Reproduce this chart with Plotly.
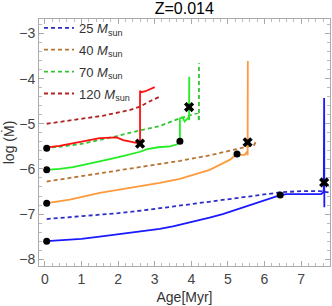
import plotly.graph_objects as go

# ---- data (Age [Myr], log Mdot) ----
age25_s = [0.05, 0.5, 1.0, 1.5, 2.0, 2.5, 3.14, 3.5, 4.0, 4.5, 4.86, 5.2, 5.58, 6.04, 6.3, 6.43, 6.6, 7.0, 7.4, 7.55, 7.6, 7.62, 7.63, 7.635]
lm25_s = [-7.60, -7.58, -7.55, -7.50, -7.45, -7.40, -7.33, -7.27, -7.18, -7.08, -7.00, -6.91, -6.81, -6.69, -6.62, -6.58, -6.56, -6.56, -6.57, -6.56, -6.52, -6.45, -4.43, -6.85]
age25_d = [0.05, 1.0, 2.0, 2.87, 3.5, 4.2, 5.05, 5.87, 6.42, 7.0, 7.5, 7.75]
lm25_d = [-7.11, -7.05, -6.98, -6.90, -6.83, -6.76, -6.67, -6.57, -6.52, -6.49, -6.49, -6.52]

age40_s = [0.05, 0.68, 1.5, 2.2, 2.87, 3.14, 3.69, 4.5, 5.05, 5.25, 5.35, 5.46, 5.52, 5.54, 5.545]
lm40_s = [-6.76, -6.68, -6.53, -6.44, -6.35, -6.31, -6.22, -6.02, -5.80, -5.67, -5.69, -5.69, -5.62, -5.70, -3.61]
age40_d = [0.05, 0.7, 1.5, 2.3, 3.0, 3.7, 4.5, 5.0, 5.33, 5.6, 5.72, 5.77]
lm40_d = [-6.28, -6.20, -6.09, -5.99, -5.91, -5.82, -5.70, -5.61, -5.54, -5.49, -5.47, -5.38]

age70_s = [0.05, 0.4, 0.77, 1.2, 1.68, 2.1, 2.6, 2.8, 3.1, 3.42, 3.6, 3.69, 3.69, 3.76, 3.82, 3.88, 3.93, 3.94, 3.945]
lm70_s = [-6.02, -6.00, -5.96, -5.89, -5.80, -5.72, -5.62, -5.56, -5.52, -5.50, -5.46, -5.39, -4.88, -4.86, -4.95, -4.90, -4.85, -4.92, -3.96]
age70_d = [0.0, 0.5, 1.04, 1.5, 1.94, 2.32, 2.87, 3.14, 3.69, 4.14, 4.19, 4.21, 4.21]
lm70_d = [-5.54, -5.50, -5.44, -5.36, -5.28, -5.20, -5.11, -5.05, -4.88, -4.77, -4.76, -4.95, -3.66]

age120_s = [0.0, 0.4, 1.04, 1.5, 1.96, 2.14, 2.6, 2.6, 2.63, 2.75, 3.0]
lm120_s = [-5.53, -5.49, -5.39, -5.32, -5.30, -5.36, -5.44, -4.27, -4.30, -4.28, -4.19]
age120_d = [0.05, 0.8, 1.6, 2.3, 2.6, 2.87, 3.14]
lm120_d = [-5.00, -4.92, -4.82, -4.70, -4.62, -4.50, -4.40]

dot_age = [0.05, 0.05, 0.05, 0.05, 6.43, 5.25, 3.69]
dot_lm = [-7.60, -6.76, -6.02, -5.54, -6.58, -5.67, -5.39]
x_age = [2.60, 3.94, 5.54, 7.63]
x_lm = [-5.44, -4.63, -5.41, -6.30]

names = ["25", "40", "70", "120"]
solid_cols = ["#1a1aff", "#ff9a3c", "#22ee22", "#ff1010"]
dash_cols = ["#2d2dc8", "#b87333", "#33c433", "#b22222"]

solids = [(age25_s, lm25_s), (age40_s, lm40_s), (age70_s, lm70_s), (age120_s, lm120_s)]
dashes = [(age25_d, lm25_d), (age40_d, lm40_d), (age70_d, lm70_d), (age120_d, lm120_d)]

fig = go.Figure()
for i, (a, l) in enumerate(dashes):
    fig.add_trace(go.Scatter(x=a, y=l, mode="lines",
                             line=dict(color=dash_cols[i], width=1.8, dash="4px,3px"),
                             name=names[i] + " <i>M</i><sub>sun</sub>",
                             legendgroup="g" + str(i), showlegend=True))
for i, (a, l) in enumerate(solids):
    fig.add_trace(go.Scatter(x=a, y=l, mode="lines",
                             line=dict(color=solid_cols[i], width=1.8),
                             showlegend=False))
fig.add_trace(go.Scatter(x=dot_age, y=dot_lm, mode="markers",
                         marker=dict(color="black", size=7), showlegend=False))
fig.add_trace(go.Scatter(x=x_age, y=x_lm, mode="markers",
                         marker=dict(color="black", size=9, symbol="x"), showlegend=False))

axis_common = dict(showline=True, mirror="ticks", linecolor="#aaaaaa", linewidth=1,
                   ticks="inside", ticklen=5, tickcolor="#aaaaaa",
                   showgrid=False, zeroline=False, automargin=False,
                   tickfont=dict(size=14, color="#444444", family="Liberation Sans, Arial"),
                   minor=dict(ticks="inside", ticklen=3, tickcolor="#bbbbbb", dtick=0.2, showgrid=False))

fig.update_xaxes(range=[-0.16, 7.79], dtick=1, tick0=0,
                 title=dict(text="Age[Myr]", font=dict(size=14, color="#333333"), standoff=6),
                 **axis_common)
fig.update_yaxes(range=[-8.15, -2.68], dtick=1, tick0=0,
                 title=dict(text="log (M\u0307)", font=dict(size=14, color="#333333"), standoff=4),
                 **axis_common)

fig.update_layout(
    width=332, height=306,
    margin=dict(l=39, r=2, t=19, b=40),
    paper_bgcolor="white", plot_bgcolor="white",
    font=dict(family="Liberation Sans, Arial", color="#333333"),
    title=dict(text="Z=0.014", x=0.555, xanchor="center", y=0.99, yanchor="top",
               font=dict(size=16, color="black")),
    legend=dict(x=0.0, y=1.025, xanchor="left", yanchor="top", bgcolor="rgba(0,0,0,0)",
                font=dict(size=13, color="#333333"), tracegroupgap=2, itemwidth=30),
)

fig.write_html("out.html", config={"displayModeBar": False},
               post_script="document.body.style.margin='0';document.body.style.overflow='hidden';")
